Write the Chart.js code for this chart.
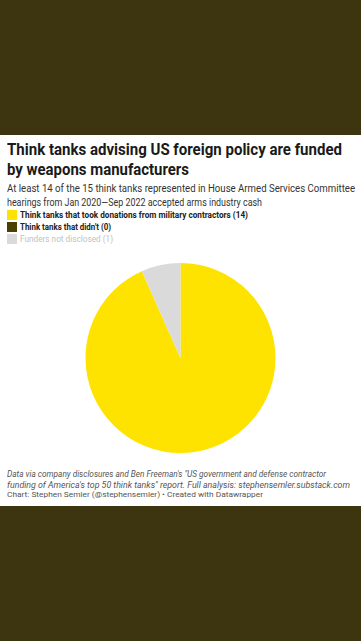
<!DOCTYPE html>
<html>
<head>
<meta charset="utf-8">
<script src="https://cdn.jsdelivr.net/npm/chart.js"></script>
<style>
  html, body { margin: 0; padding: 0; }
  body { width: 361px; height: 641px; background: #3d350f; position: relative; overflow: hidden; font-family: Roboto, "Noto Sans", sans-serif; }
  .card { position: absolute; left: 0; top: 135px; width: 361px; height: 371px; background: #fff; }
  .ln { display: block; white-space: nowrap; }
  .fit { display: inline-block; transform-origin: 0 50%; }
  .title { position: absolute; left: 7px; top: 5px; font-size: 16.5px; line-height: 19.5px; font-weight: 700; color: #1a1a1a; }
  .sub { position: absolute; left: 7px; top: 47px; font-size: 10.8px; line-height: 13.5px; color: #333; }
  .legend { position: absolute; left: 7px; top: 75px; }
  .legend .row { height: 12px; font-size: 8.4px; line-height: 10px; white-space: nowrap; }
  .legend .sw { display: inline-block; width: 10px; height: 10px; vertical-align: top; margin-right: 3px; }
  .chartbox { position: absolute; left: 0; top: 128px; width: 361px; height: 190px; }
  .notes { position: absolute; left: 7px; top: 334px; font-size: 8.3px; line-height: 10.5px; font-style: italic; color: #555; }
  .credit { position: absolute; left: 7px; top: 355px; font-size: 7.6px; line-height: 10px; color: #555; }
</style>
</head>
<body>
<div class="card">
  <div class="title">
    <span class="ln"><span class="fit" data-w="335">Think tanks advising US foreign policy are funded</span></span>
    <span class="ln"><span class="fit" data-w="182">by weapons manufacturers</span></span>
  </div>
  <div class="sub">
    <span class="ln"><span class="fit" data-w="348">At least 14 of the 15 think tanks represented in House Armed Services Committee</span></span>
    <span class="ln"><span class="fit" data-w="255">hearings from Jan 2020—Sep 2022 accepted arms industry cash</span></span>
  </div>
  <div class="legend" id="legend"></div>
  <div class="chartbox"><canvas id="chart"></canvas></div>
  <div class="notes">
    <span class="ln"><span class="fit" data-w="319">Data via company disclosures and Ben Freeman's "US government and defense contractor</span></span>
    <span class="ln"><span class="fit" data-w="343">funding of America's top 50 think tanks" report. Full analysis: stephensemler.substack.com</span></span>
  </div>
  <div class="credit"><span class="ln"><span class="fit" data-w="256">Chart: Stephen Semler (@stephensemler) • Created with Datawrapper</span></span></div>
</div>
<script>
const labels = [
  'Think tanks that took donations from military contractors',
  "Think tanks that didn't",
  'Funders not disclosed'
];
const counts = [14, 0, 1];
const colors = ['#ffe300', '#4b4000', '#dadada'];
const legendTextColors = ['#222', '#222', '#c2c2c2'];
const legendWeights = ['700', '700', '400'];
const legendWidths = [228, 91, 93];

const legend = document.getElementById('legend');
labels.forEach((l, i) => {
  const row = document.createElement('div');
  row.className = 'row';
  row.style.color = legendTextColors[i];
  row.style.fontWeight = legendWeights[i];
  row.innerHTML = '<span class="sw" style="background:' + colors[i] + '"></span>' +
    '<span class="fit" data-w="' + legendWidths[i] + '">' + l + ' (' + counts[i] + ')</span>';
  legend.appendChild(row);
});

// squeeze each text line to the width it has in the picture
document.querySelectorAll('.fit').forEach(el => {
  const w = el.getBoundingClientRect().width;
  const target = +el.dataset.w;
  if (w > 0) el.style.transform = 'scaleX(' + (target / w) + ')';
});

new Chart(document.getElementById('chart'), {
  type: 'pie',
  data: {
    labels: labels,
    datasets: [{
      data: counts,
      backgroundColor: colors,
      borderWidth: 0
    }]
  },
  options: {
    responsive: true,
    maintainAspectRatio: false,
    animation: false,
    layout: { padding: 0 },
    plugins: {
      legend: { display: false },
      tooltip: { enabled: false }
    }
  }
});
</script>
</body>
</html>
